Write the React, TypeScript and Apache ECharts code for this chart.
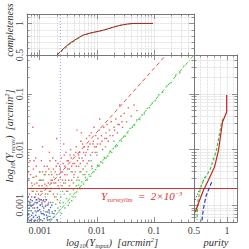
import React, { useEffect, useRef } from "react";
import * as echarts from "echarts";

// ---- scatter data, in log10 units [log10(Y_input), log10(Y_recov)] ----
const redLog: number[][] = [
  [-3.18,-2.95],[-3.15,-2.70],[-3.12,-3.05],[-3.10,-2.50],[-3.08,-2.85],[-3.05,-2.60],[-3.03,-3.10],[-3.00,-2.40],[-2.98,-2.75],[-2.96,-2.95],
  [-2.94,-2.55],[-2.92,-2.30],[-2.90,-2.80],[-2.88,-2.65],[-2.86,-3.00],[-2.84,-2.45],[-2.82,-2.20],[-2.80,-2.70],[-2.78,-2.55],[-2.76,-2.35],
  [-2.74,-2.85],[-2.72,-2.60],[-2.70,-2.45],[-2.68,-2.25],[-2.66,-2.70],[-2.64,-2.50],[-2.62,-2.15],[-2.60,-2.40],[-2.58,-2.60],[-2.56,-2.30],
  [-2.54,-2.05],[-2.52,-2.45],[-2.50,-2.20],[-2.48,-2.35],[-2.46,-2.00],[-2.44,-2.55],[-2.42,-2.25],[-2.40,-2.10],[-2.38,-2.40],[-2.36,-1.95],
  [-2.34,-2.20],[-2.32,-2.30],[-2.30,-2.05],[-2.28,-1.85],[-2.26,-2.15],[-2.24,-2.35],[-2.22,-1.95],[-2.20,-2.10],[-2.18,-1.80],[-2.16,-2.00],
  [-2.14,-2.20],[-2.12,-1.90],[-2.10,-1.70],[-2.08,-2.05],[-2.06,-1.85],[-2.04,-1.95],[-2.02,-1.75],[-2.00,-2.10],[-1.98,-1.80],[-1.96,-1.65],
  [-1.94,-1.90],[-1.92,-1.75],[-1.90,-2.00],[-1.88,-1.60],[-1.86,-1.80],[-1.84,-1.70],[-1.82,-1.55],[-1.80,-1.85],[-1.78,-1.65],[-1.75,-1.50],
  [-1.72,-1.75],[-1.70,-1.60],[-1.67,-1.45],[-1.64,-1.70],[-1.61,-1.55],[-1.58,-1.40],[-1.55,-1.60],[-1.52,-1.35],[-1.48,-1.50],[-1.45,-1.25],
  [-1.40,-1.40],[-1.35,-1.20],[-1.30,-1.30],
  [-3.20,-2.40],[-3.17,-2.20],[-3.14,-2.85],[-3.11,-2.35],[-3.07,-2.15],[-3.04,-2.95],[-3.01,-2.65],[-2.97,-2.20],[-2.93,-2.90],[-2.89,-2.40],
  [-2.85,-2.60],[-2.81,-2.95],[-2.77,-2.15],[-2.73,-2.40],[-2.69,-2.90],[-2.65,-2.30],[-2.61,-2.65],[-2.57,-2.10],[-2.53,-2.75],[-2.49,-2.55],
  [-2.45,-2.15],[-2.41,-2.60],[-2.37,-2.05],[-2.33,-2.50],[-2.29,-2.25],[-2.25,-1.90],[-2.21,-2.45],[-2.17,-2.25],[-2.13,-1.75],[-2.09,-2.30],
  [-2.05,-1.60],[-2.01,-1.95],
  [-3.12,-1.60],[-2.95,-1.95],[-2.70,-1.80],[-2.35,-1.65],[-1.60,-1.20],[-3.06,-2.30],[-2.83,-2.05],[-2.58,-1.90],[-2.27,-1.70],[-1.95,-1.45],
  [-3.19,-2.55],[-3.16,-2.45],[-3.13,-2.75],[-3.09,-2.62],[-3.06,-2.48],[-3.02,-2.80],[-2.99,-2.55],[-2.95,-2.40],[-2.91,-2.62],[-2.87,-2.30],
  [-2.83,-2.75],[-2.79,-2.45],[-2.75,-2.60],[-2.71,-2.30],[-2.67,-2.55],[-2.63,-2.40],[-2.59,-2.25],[-2.55,-2.55],[-2.51,-2.35],[-2.47,-2.10],
  [-2.43,-2.40],[-2.39,-2.25],[-2.31,-2.15],[-2.23,-2.05],[-2.15,-1.95],[-3.18,-2.80],[-3.14,-2.60],[-3.10,-2.20],[-3.05,-2.75],[-3.00,-2.90],
  [-2.96,-2.65],[-2.92,-2.45],[-2.88,-2.90],[-2.84,-2.35],[-2.80,-2.55],[-2.76,-2.80],[-2.72,-2.20],[-2.68,-2.65],[-2.64,-2.35],[-2.60,-2.55],
  [-2.56,-2.45],[-2.52,-2.20],[-2.48,-2.65],[-2.44,-2.30],[-2.40,-2.45],[-2.36,-2.30],[-2.32,-2.10],[-2.28,-2.40],[-2.24,-2.20],[-2.19,-2.05],
  [-2.11,-2.10],[-2.07,-1.90],[-2.03,-2.05],[-1.99,-1.90],[-1.91,-1.85],[-1.83,-1.80],[-1.77,-1.75],[-1.69,-1.65],[-1.63,-1.55],[-1.56,-1.50]
];

const greenLog: number[][] = [
  [-0.48,-0.50],[-0.55,-0.62],[-0.62,-0.66],[-0.70,-0.80],[-0.78,-0.86],[-0.85,-0.97],[-0.92,-1.02],[-0.98,-1.12],[-1.03,-1.16],[-1.08,-1.25],
  [-1.12,-1.26],[-1.17,-1.36],[-1.21,-1.38],[-1.25,-1.46],[-1.30,-1.47],[-1.34,-1.56],[-1.38,-1.60],[-1.42,-1.62],[-1.46,-1.70],[-1.50,-1.76],
  [-1.53,-1.77],[-1.57,-1.85],[-1.60,-1.84],[-1.64,-1.93],[-1.67,-1.95],[-1.71,-1.98],[-1.74,-2.05],[-1.77,-2.03],[-1.81,-2.12],[-1.84,-2.15],
  [-1.87,-2.14],[-1.90,-2.24],[-1.93,-2.22],[-1.96,-2.30],[-1.99,-2.28],[-2.02,-2.36],[-2.05,-2.40],[-2.08,-2.34],[-2.11,-2.48],[-2.14,-2.45],
  [-2.17,-2.55],[-2.20,-2.50],[-2.23,-2.62],[-2.26,-2.58],[-2.29,-2.70],[-2.32,-2.64],[-2.35,-2.76],[-2.38,-2.85],[-2.41,-2.72],[-2.44,-2.92],
  [-2.47,-2.80],[-2.50,-3.00],[-2.53,-2.88],[-2.56,-3.05],[-2.59,-2.95],[-2.62,-3.15],[-2.65,-2.70],[-2.68,-3.05],[-2.71,-2.85],[-2.74,-3.20],
  [-2.77,-2.95],[-2.80,-2.60],[-2.83,-3.10],[-2.86,-2.80],[-2.89,-3.00],[-2.92,-2.70],[-2.95,-3.15],[-2.98,-2.90],[-3.01,-2.55],[-3.04,-3.05],
  [-3.07,-2.80],[-3.10,-3.20],[-3.13,-2.65],[-3.16,-2.95],[-3.19,-3.10],[-2.40,-2.50],[-2.20,-2.30],[-2.55,-2.60],[-2.00,-2.05],[-1.85,-1.95],
  [-2.30,-2.40],[-2.60,-2.75],[-2.75,-2.50],[-3.00,-2.40],[-2.90,-2.45],[-2.45,-2.40],[-1.70,-1.85],[-2.10,-2.20],[-2.35,-2.55],[-2.65,-2.95],
  [-2.85,-3.20],
  [-3.20,-2.85],[-3.17,-3.20],[-3.14,-3.00],[-3.11,-2.75],[-3.08,-3.10],[-3.05,-2.90],[-3.02,-3.25],[-2.99,-3.00],[-2.96,-2.75],[-2.93,-3.10],
  [-2.90,-2.85],[-2.87,-3.25],[-2.84,-2.95],[-2.81,-2.75],[-2.78,-3.15],[-2.72,-2.98],[-2.69,-2.80],[-2.66,-3.10],[-2.63,-2.85],[-2.57,-2.80],
  [-2.51,-2.75],[-2.48,-2.95],[-2.42,-2.85],[-2.36,-2.65],[-2.31,-2.55],[-2.24,-2.45],[-2.18,-2.40],[-3.12,-2.50],[-2.97,-2.55],[-2.80,-2.40]
];

const blueLog: number[][] = [
  [-3.20,-3.25],[-3.18,-3.05],[-3.16,-2.90],[-3.14,-3.18],[-3.12,-3.00],[-3.10,-3.28],[-3.08,-2.95],[-3.06,-3.12],[-3.04,-3.22],[-3.02,-2.88],
  [-3.00,-3.08],[-2.98,-3.26],[-2.96,-2.98],[-2.94,-3.15],[-2.92,-3.24],[-2.90,-3.02],[-2.88,-3.18],[-2.86,-3.27],[-2.84,-3.08],[-2.82,-3.20],
  [-2.80,-3.25],[-2.78,-3.12],[-3.19,-3.15],[-3.17,-2.98],[-3.15,-3.10],[-3.13,-2.92],[-3.11,-3.22],[-3.09,-3.05],[-3.07,-3.18],[-3.05,-2.96],
  [-3.03,-3.10],[-3.01,-3.20],[-2.99,-3.00],[-2.97,-3.15],[-2.95,-3.28],[-2.93,-3.05],[-2.91,-2.94],[-2.89,-3.12],[-2.87,-3.22],[-2.85,-2.98],
  [-2.83,-3.14],[-2.81,-3.04],[-2.76,-3.22],[-2.73,-3.10],[-3.21,-3.00],[-3.20,-2.85],[-3.16,-3.27],[-3.09,-2.86],[-2.97,-2.90],[-2.70,-3.26],
  [-3.21,-3.18],[-3.18,-3.28],[-3.15,-3.02],[-3.12,-3.14],[-3.10,-2.98],[-3.07,-3.27],[-3.04,-3.04],[-3.01,-2.93],[-2.98,-3.12],[-2.95,-3.02],
  [-2.92,-3.17],[-2.89,-2.90],[-2.86,-3.12],[-2.83,-3.26],[-2.79,-3.00],[-2.75,-3.15],[-3.19,-2.93],[-3.14,-3.25],[-3.06,-2.90],[-2.94,-2.92]
];

// ---- reference lines (data coords, Y in arcmin^2) ----
const redDiag: number[][] = [[0.00101, 0.00147], [0.162, 0.5]];
const greenDiag: number[][] = [[0.0015, 0.0005], [0.5, 0.5]];
const surveyLim = 0.002;
const inputLim = 0.0023;

// ---- completeness (top panel) ----
const compX = [0.00201, 0.00256, 0.00339, 0.0045, 0.00571, 0.00822, 0.01135, 0.01503, 0.0191, 0.0254, 0.0337, 0.0429, 0.096];
const compRed = [0.50, 0.595, 0.69, 0.76, 0.815, 0.855, 0.88, 0.91, 0.94, 0.97, 0.99, 1.0, 1.0];
const compGreen = [0.50, 0.575, 0.675, 0.75, 0.81, 0.853, 0.88, 0.91, 0.94, 0.97, 0.99, 1.0, 1.0];

// ---- purity (right panel): [purity, Y_recov] ----
const purityRed: number[][] = [[0.994, 0.0955], [0.994, 0.0473], [0.931, 0.0313], [0.871, 0.00982], [0.81, 0.00486], [0.719, 0.00284], [0.644, 0.00188], [0.568, 0.0011], [0.52, 0.00075]];
const purityGreen: number[][] = [[0.94, 0.036], [0.916, 0.030], [0.84, 0.00982], [0.742, 0.0043], [0.644, 0.00284], [0.591, 0.00188], [0.556, 0.0011], [0.545, 0.00054]];
const purityBlack: number[][] = [[0.667, 0.00321], [0.591, 0.0020], [0.515, 0.00124]];
const purityBlue: number[][] = [[0.768, 0.0026], [0.682, 0.00147], [0.641, 0.00085], [0.617, 0.0005]];

const X_MIN = 0.0006, X_MAX = 0.5, Y_MIN = 0.0005, Y_MAX = 0.5;
const F_MIN = 0.5, F_MAX = 1.15;

const FONT = "'Liberation Serif', 'DejaVu Serif', serif";
const AX = "#777";
const GRID = "#c8c8c8";

const toPts = (a: number[][]) => a.map(([u, v]) => [Math.pow(10, u), Math.pow(10, v)]);

const logLabel = (v: number) => {
  const l = Math.log10(v);
  return Math.abs(l - Math.round(l)) < 1e-6 ? String(Number(v.toPrecision(1))) : "";
};
const fracLabel = (v: number) => (Math.abs(v - 0.5) < 1e-9 ? "0.5" : Math.abs(v - 1) < 1e-9 ? "1" : "");

function axis(o: any) {
  const { grid, pos, log, min, max, labels, rotate, gridLines, minorSplit } = o;
  const a: any = {
    gridIndex: grid,
    position: pos,
    type: log ? "log" : "value",
    min,
    max,
    axisLine: { show: true, onZero: false, lineStyle: { color: AX, width: 1 } },
    axisTick: { show: true, inside: true, length: 5, lineStyle: { color: AX, width: 0.8 } },
    minorTick: { show: true, splitNumber: log ? 9 : 5, length: 2.5, lineStyle: { color: AX, width: 0.8 } },
    splitLine: { show: !!gridLines, lineStyle: { color: GRID, type: "dotted", width: 0.8 } },
    minorSplitLine: { show: !!minorSplit, lineStyle: { color: GRID, type: "dotted", width: 0.7 } },
    axisLabel: {
      show: !!labels,
      formatter: log ? logLabel : fracLabel,
      fontFamily: FONT,
      fontSize: 10,
      color: "#444",
      rotate: rotate || 0,
      margin: 3,
      showMinLabel: true,
      showMaxLabel: true,
    },
  };
  if (log) a.logBase = 10;
  else a.interval = 0.5;
  return a;
}

const base = { fontFamily: FONT, fontStyle: "italic", fontSize: 10.5, lineHeight: 13, fill: "#333" };
const sub = { fontFamily: FONT, fontStyle: "italic", fontSize: 6.5, lineHeight: 7, padding: [6, 0, 0, 0], fill: "#333" };
const sup = { fontFamily: FONT, fontStyle: "italic", fontSize: 6.5, lineHeight: 7, padding: [0, 0, 6, 0], fill: "#333" };
const richT = { a: base, s: sub, p: sup };
const RED = "#d83030";
const richR = {
  a: { ...base, fontSize: 11, fill: RED },
  s: { ...sub, fill: RED },
  p: { ...sup, fill: RED },
};

export default function App() {
  const ref = useRef<HTMLDivElement>(null);
  useEffect(() => {
    if (!ref.current) return;
    const chart = echarts.init(ref.current, null, { renderer: "svg" });
    const lineS = (xi: number, yi: number, data: number[][], color: string, type: any, width = 1, z = 3) => ({
      type: "line",
      xAxisIndex: xi,
      yAxisIndex: yi,
      data,
      showSymbol: false,
      symbol: "none",
      lineStyle: { color, width, type },
      z,
      silent: true,
    });
    const scat = (data: number[][], color: string) => ({
      type: "scatter",
      xAxisIndex: 2,
      yAxisIndex: 2,
      data: toPts(data),
      symbol: "rect",
      symbolSize: 1.4,
      itemStyle: { color, opacity: 0.85 },
      silent: true,
      z: 2,
    });
    chart.setOption({
      animation: false,
      backgroundColor: "#fff",
      grid: [
        { left: 27, top: 14, width: 167, height: 41, containLabel: false },
        { left: 27, top: 55, width: 167, height: 167, containLabel: false },
        { left: 194, top: 55, width: 43, height: 167, containLabel: false },
      ],
      xAxis: [
        axis({ grid: 0, pos: "bottom", log: true, min: X_MIN, max: X_MAX, gridLines: true, minorSplit: true }),
        axis({ grid: 0, pos: "top", log: true, min: X_MIN, max: X_MAX }),
        axis({ grid: 1, pos: "bottom", log: true, min: X_MIN, max: X_MAX, labels: true }),
        axis({ grid: 1, pos: "top", log: true, min: X_MIN, max: X_MAX }),
        axis({ grid: 2, pos: "bottom", log: false, min: F_MIN, max: F_MAX, labels: true, gridLines: true, minorSplit: true }),
        axis({ grid: 2, pos: "top", log: false, min: F_MIN, max: F_MAX }),
      ],
      yAxis: [
        axis({ grid: 0, pos: "left", log: false, min: F_MIN, max: F_MAX, labels: true, rotate: 90, gridLines: true, minorSplit: true }),
        axis({ grid: 0, pos: "right", log: false, min: F_MIN, max: F_MAX }),
        axis({ grid: 1, pos: "left", log: true, min: Y_MIN, max: Y_MAX, labels: true, rotate: 90 }),
        axis({ grid: 1, pos: "right", log: true, min: Y_MIN, max: Y_MAX }),
        axis({ grid: 2, pos: "left", log: true, min: Y_MIN, max: Y_MAX, gridLines: true, minorSplit: true }),
        axis({ grid: 2, pos: "right", log: true, min: Y_MIN, max: Y_MAX }),
      ],
      series: [
        scat(redLog, "#e04848"),
        scat(greenLog, "#3cc43c"),
        scat(blueLog, "#3a48c8"),
        lineS(2, 2, redDiag, "#e05050", [4, 3]),
        lineS(2, 2, greenDiag, "#44cc44", [4, 2, 1, 2]),
        lineS(2, 2, [[X_MIN, surveyLim], [X_MAX, surveyLim]], RED, "solid"),
        lineS(2, 2, [[inputLim, Y_MIN], [inputLim, Y_MAX]], "#9da4d8", [1, 2]),
        lineS(0, 0, compX.map((x, i) => [x, compGreen[i]]), "#40c040", [3, 2]),
        lineS(0, 0, compX.map((x, i) => [x, compRed[i]]), "#b02020", "solid"),
        lineS(0, 0, [[inputLim, F_MIN], [inputLim, F_MAX]], "#9da4d8", [1, 2]),
        lineS(4, 4, [[F_MIN, surveyLim], [F_MAX, surveyLim]], RED, "solid"),
        lineS(4, 4, purityBlack, "#222", [1, 2]),
        lineS(4, 4, purityBlue, "#2a38d0", [4, 2], 1.2),
        lineS(4, 4, purityGreen, "#3cc43c", [3, 2], 1.2),
        lineS(4, 4, purityRed, "#d02020", "solid", 1.2),
      ],
      graphic: [
        {
          type: "text", x: 112, y: 242, silent: true,
          style: { text: "{a|log}{s|10}{a|(Y}{s|input}{a|)  [arcmin}{p|2}{a|]}", rich: richT, align: "center", verticalAlign: "middle" },
        },
        {
          type: "text", x: 216, y: 242, silent: true,
          style: { text: "{a|purity}", rich: richT, align: "center", verticalAlign: "middle" },
        },
        {
          type: "text", x: 9, y: 136, rotation: Math.PI / 2, silent: true,
          style: { text: "{a|log}{s|10}{a|(Y}{s|recov}{a|)  [arcmin}{p|2}{a|]}", rich: richT, align: "center", verticalAlign: "middle" },
        },
        {
          type: "text", x: 9, y: 30, rotation: Math.PI / 2, silent: true,
          style: { text: "{a|completeness}", rich: { a: { ...base, fontSize: 10 } }, align: "center", verticalAlign: "middle" },
        },
        {
          type: "text", x: 101, y: 196, silent: true,
          style: { text: "{a|Y}{s|surveylim}{a|  =  2×10}{p|−3}", rich: richR, align: "left", verticalAlign: "middle" },
        },
      ],
    });
    return () => chart.dispose();
  }, []);
  return <div ref={ref} style={{ position: "fixed", left: 0, top: 0, width: 249, height: 249 }} />;
}
